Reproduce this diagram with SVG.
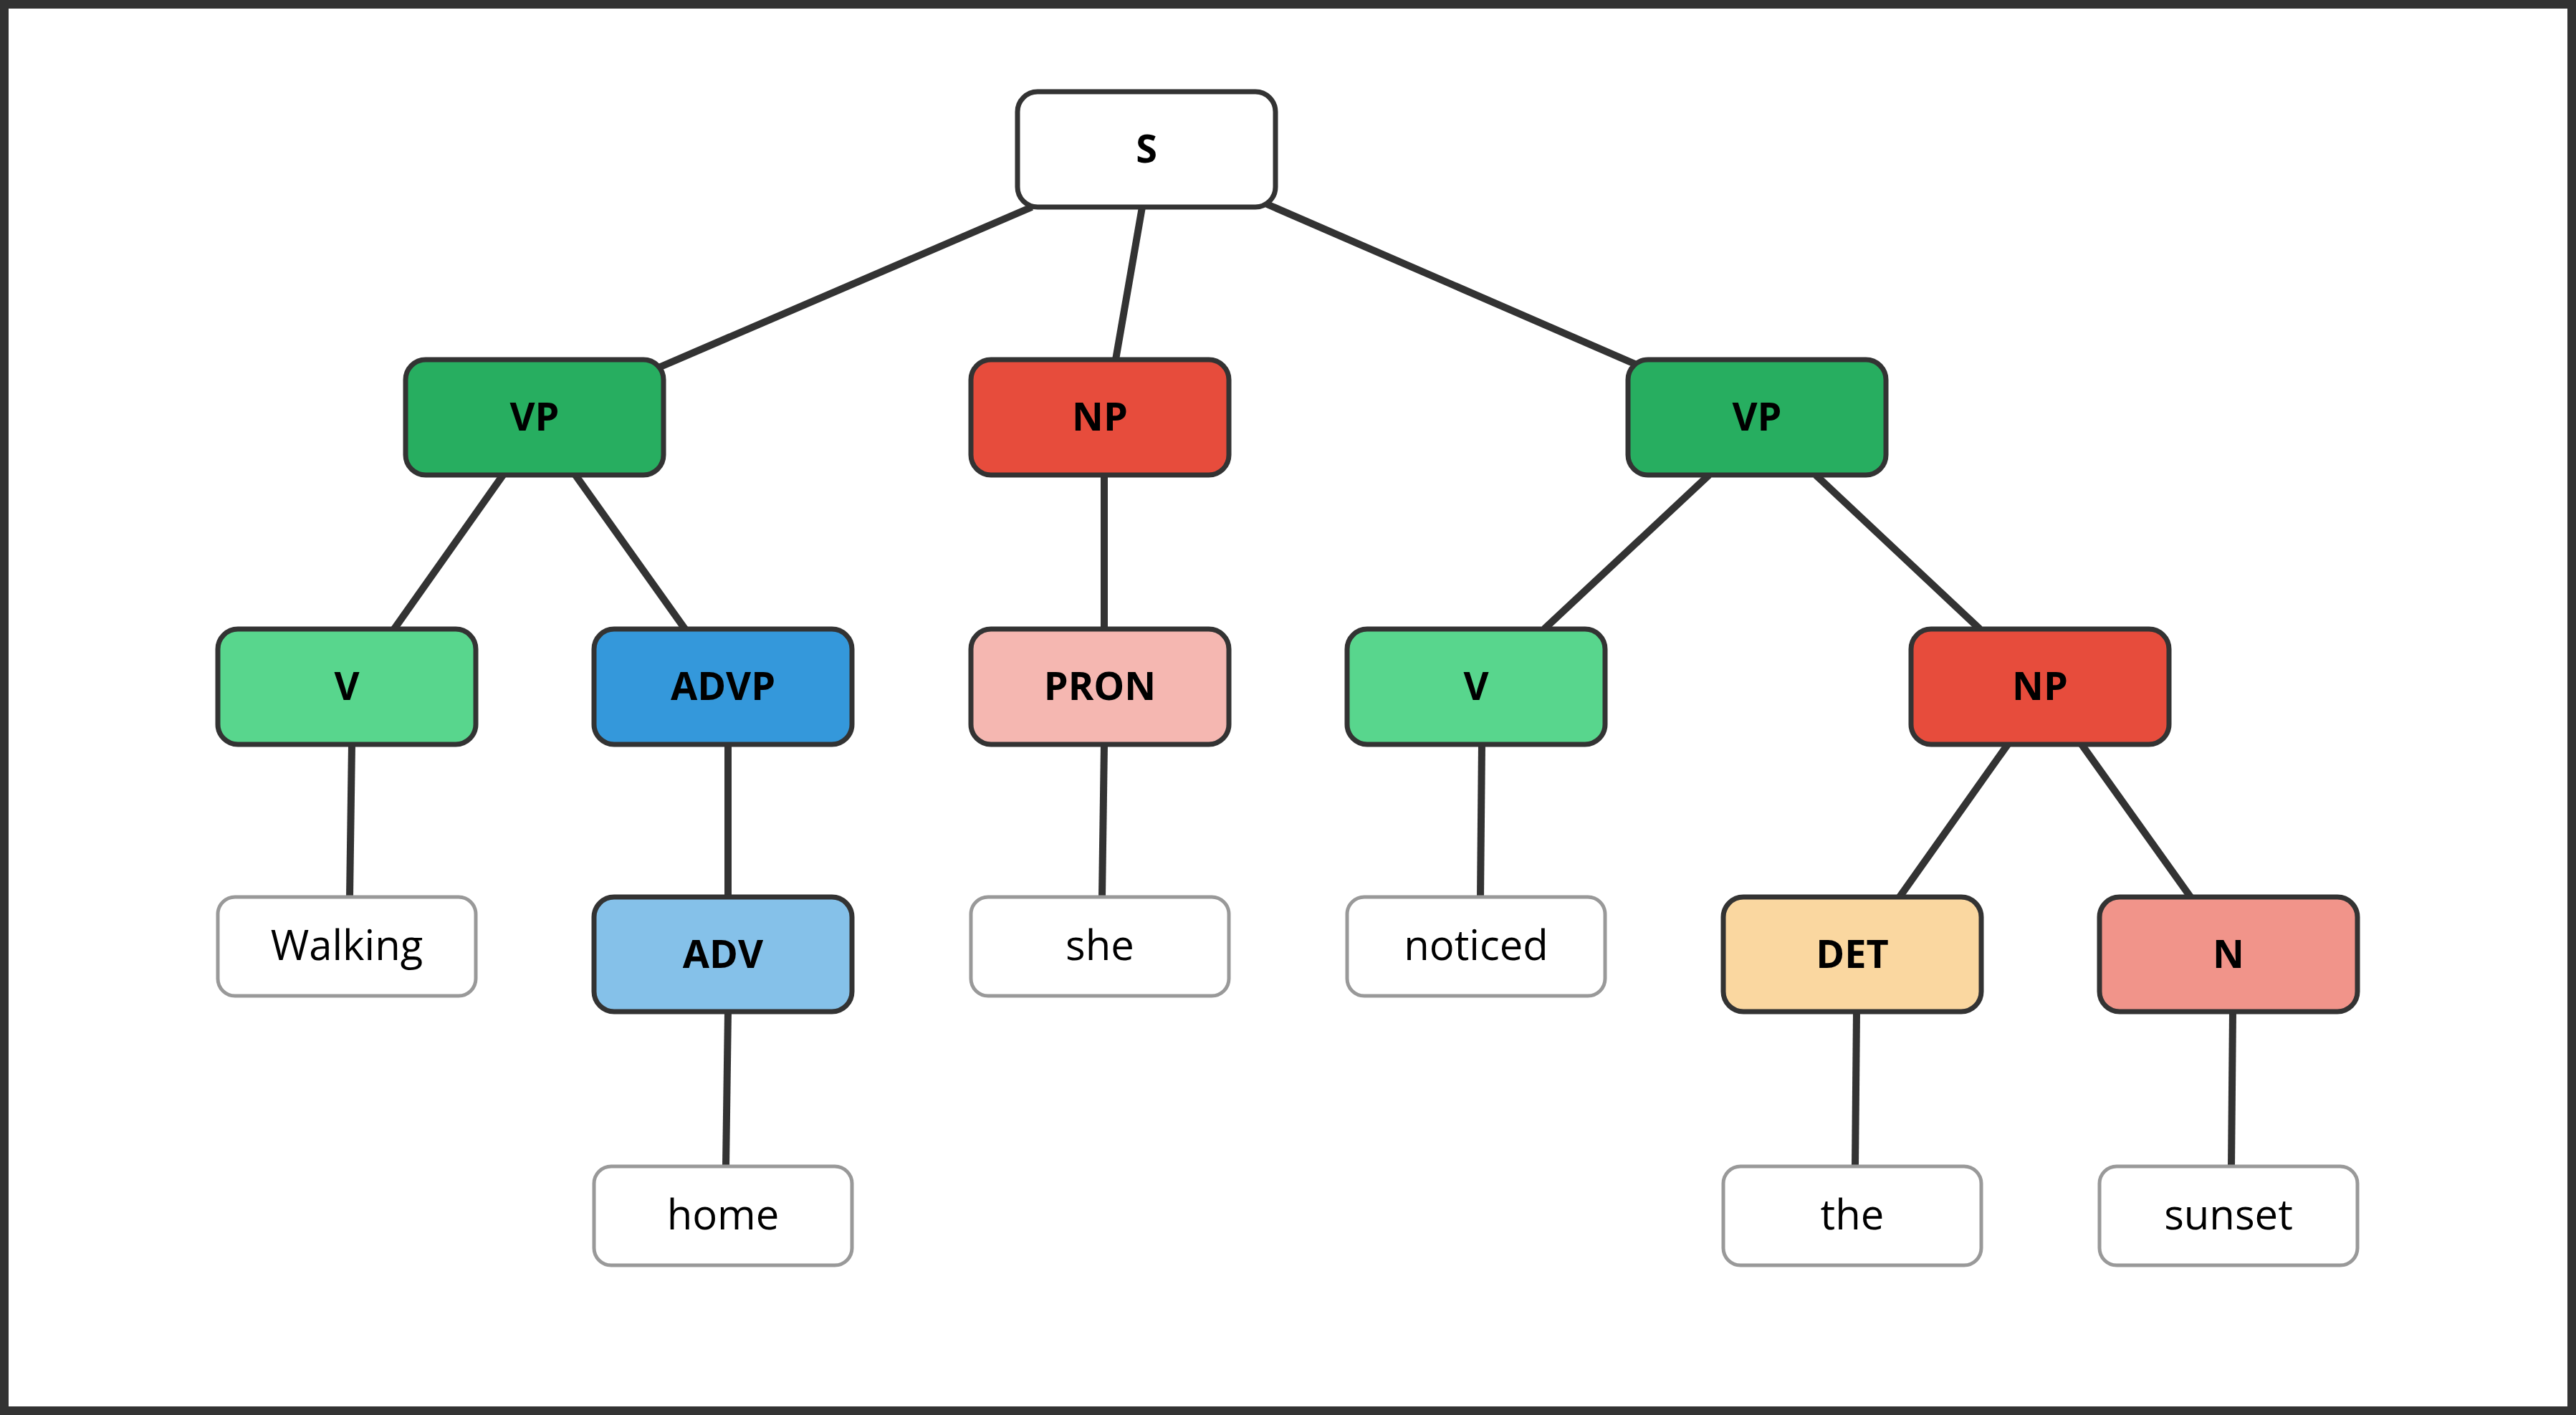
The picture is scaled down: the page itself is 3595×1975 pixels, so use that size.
<svg xmlns="http://www.w3.org/2000/svg" width="3595" height="1975" viewBox="0 0 3595 1975">
<style>
.c{stroke:#333;stroke-width:7}
.w{fill:#fff;stroke:#999;stroke-width:5}
.t{font-family:"Open Sans","DejaVu Sans",sans-serif;font-weight:bold;font-size:54px;text-anchor:middle;fill:#000}
.u{font-family:"Open Sans","DejaVu Sans",sans-serif;font-size:58px;text-anchor:middle;fill:#000}
#edges line{stroke:#333;stroke-width:10}
</style>
<rect x="6" y="6" width="3583" height="1963" fill="#fff" stroke="#333" stroke-width="12"/>
<g id="edges">
<line x1="1440" y1="289" x2="917" y2="514"/>
<line x1="1594" y1="289" x2="1557" y2="502"/>
<line x1="1766" y1="284" x2="2284" y2="509"/>
<line x1="702" y1="663" x2="550" y2="878"/>
<line x1="803" y1="663" x2="956" y2="878"/>
<line x1="1541" y1="663" x2="1541" y2="878"/>
<line x1="2385" y1="663" x2="2155" y2="878"/>
<line x1="2534" y1="663" x2="2763" y2="878"/>
<line x1="491" y1="1039" x2="488" y2="1252"/>
<line x1="1016" y1="1039" x2="1016" y2="1252"/>
<line x1="1541" y1="1039" x2="1538" y2="1252"/>
<line x1="2068" y1="1039" x2="2066" y2="1252"/>
<line x1="2802" y1="1039" x2="2651" y2="1252"/>
<line x1="2905" y1="1039" x2="3057" y2="1252"/>
<line x1="1016" y1="1412" x2="1013" y2="1628"/>
<line x1="2591" y1="1412" x2="2589" y2="1628"/>
<line x1="3116" y1="1412" x2="3114" y2="1628"/>
</g>
<g id="S"><rect class="c" x="1420" y="128" width="360" height="161" rx="28" fill="#fff"/><text class="t" x="1600" y="227">S</text></g>
<g id="VP1"><rect class="c" x="566" y="502" width="360" height="161" rx="28" fill="#27ae60"/><text class="t" x="746" y="601">VP</text></g>
<g id="NP1"><rect class="c" x="1355" y="502" width="360" height="161" rx="28" fill="#e74c3c"/><text class="t" x="1535" y="601">NP</text></g>
<g id="VP2"><rect class="c" x="2272" y="502" width="360" height="161" rx="28" fill="#27ae60"/><text class="t" x="2452" y="601">VP</text></g>
<g id="V1"><rect class="c" x="304" y="878" width="360" height="161" rx="28" fill="#58d68d"/><text class="t" x="484" y="977">V</text></g>
<g id="ADVP"><rect class="c" x="829" y="878" width="360" height="161" rx="28" fill="#3498db"/><text class="t" x="1009" y="977">ADVP</text></g>
<g id="PRON"><rect class="c" x="1355" y="878" width="360" height="161" rx="28" fill="#f5b7b1"/><text class="t" x="1535" y="977">PRON</text></g>
<g id="V2"><rect class="c" x="1880" y="878" width="360" height="161" rx="28" fill="#58d68d"/><text class="t" x="2060" y="977">V</text></g>
<g id="NP2"><rect class="c" x="2667" y="878" width="360" height="161" rx="28" fill="#e74c3c"/><text class="t" x="2847" y="977">NP</text></g>
<g id="Walking"><rect class="w" x="304" y="1252" width="360" height="138" rx="24"/><text class="u" x="484" y="1340">Walking</text></g>
<g id="ADV"><rect class="c" x="829" y="1252" width="360" height="160" rx="28" fill="#85c1e9"/><text class="t" x="1009" y="1351">ADV</text></g>
<g id="she"><rect class="w" x="1355" y="1252" width="360" height="138" rx="24"/><text class="u" x="1535" y="1340">she</text></g>
<g id="noticed"><rect class="w" x="1880" y="1252" width="360" height="138" rx="24"/><text class="u" x="2060" y="1340">noticed</text></g>
<g id="DET"><rect class="c" x="2405" y="1252" width="360" height="160" rx="28" fill="#fad7a0"/><text class="t" x="2585" y="1351">DET</text></g>
<g id="N"><rect class="c" x="2930" y="1252" width="360" height="160" rx="28" fill="#f1948a"/><text class="t" x="3110" y="1351">N</text></g>
<g id="home"><rect class="w" x="829" y="1628" width="360" height="138" rx="24"/><text class="u" x="1009" y="1716">home</text></g>
<g id="the"><rect class="w" x="2405" y="1628" width="360" height="138" rx="24"/><text class="u" x="2585" y="1716">the</text></g>
<g id="sunset"><rect class="w" x="2930" y="1628" width="360" height="138" rx="24"/><text class="u" x="3110" y="1716">sunset</text></g>
</svg>
